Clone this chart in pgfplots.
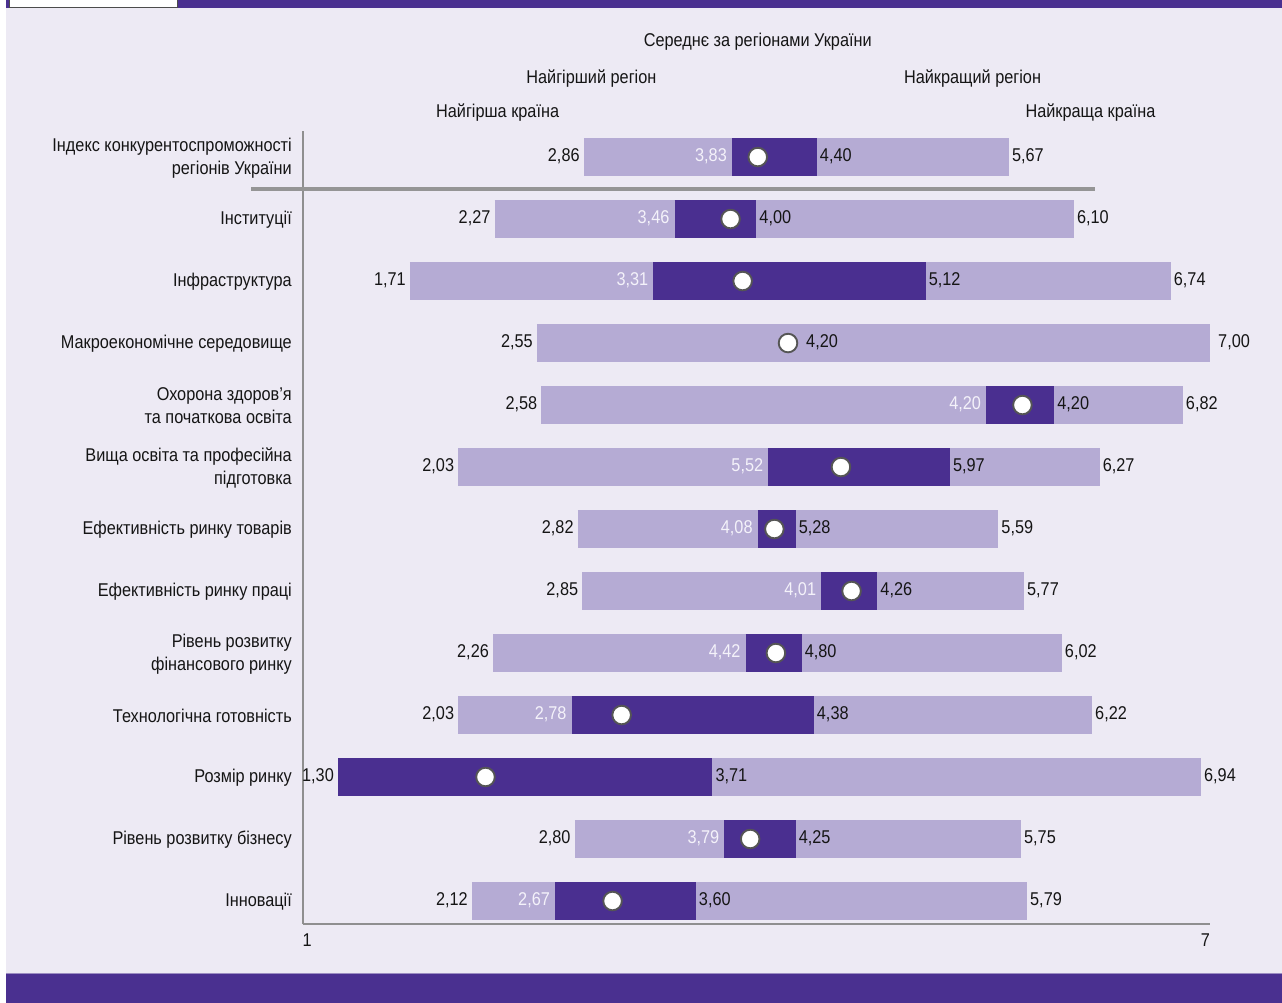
\documentclass[border=0pt]{standalone}
\usepackage{fontspec}
\setmainfont{Liberation Sans}[FakeStretch=0.88]
\usepackage{pgfplots}
\pgfplotsset{compat=1.18}
\definecolor{bg}{HTML}{EDEAF4}
\definecolor{lightbar}{HTML}{B5ABD4}
\definecolor{darkbar}{HTML}{4A2F90}
\definecolor{band}{HTML}{4A3090}
\definecolor{axgray}{HTML}{8F8F8F}
\definecolor{sepgray}{HTML}{959595}
\definecolor{circgray}{HTML}{555555}
\definecolor{txt}{HTML}{151515}
\definecolor{wtxt}{HTML}{F4F2FA}
\newcommand\lf{\fontsize{18.5}{23}\selectfont}
\pgfplotsset{
  lab/.style={draw=none, mark=none, point meta=explicit symbolic, nodes near coords,
    every node near coord/.append style={inner sep=0pt, text height=0.72em, text depth=0pt, yshift=-1pt, font=\lf, #1}},
}
\begin{document}
\begin{tikzpicture}
\path[use as bounding box] (0pt,0pt) rectangle (1282pt,-1003pt);
\fill[white] (0pt,0pt) rectangle (1282pt,-1003pt);
\fill[bg] (6pt,0pt) rectangle (1282pt,-1003pt);
\fill[band] (6pt,0pt) rectangle (1282pt,-8pt);
\filldraw[fill=white,draw=black!70,line width=0.8pt] (9pt,1pt) rectangle (177pt,-7pt);
\fill[band] (6pt,-973pt) rectangle (1282pt,-1003pt);
\draw[band!55!white, line width=1pt] (6pt,-973.5pt) -- (1282pt,-973.5pt);
\begin{axis}[
  at={(302.5pt,-924pt)}, anchor=south west,
  scale only axis, width=907.5pt, height=793pt,
  xmin=1, xmax=7, ymin=-12.371, ymax=0.42,
  clip=false,
  axis lines*=left,
  axis line style={draw=axgray, line width=2pt, -},
  major tick length=0pt,
  /pgf/number format/assume math mode=true,
  xtick={1}, extra x ticks={7},
  xticklabel style={anchor=north west, inner sep=0pt, yshift=-10pt, font=\lf, text=txt},
  extra x tick style={xticklabel style={anchor=north east}},
  ytick={-12,-11,-10,-9,-8,-7,-6,-5,-4,-3,-2,-1,0},
  yticklabels={Інновації, Рівень розвитку бізнесу, Розмір ринку, Технологічна готовність,
    {Рівень розвитку\\фінансового ринку}, Ефективність ринку праці, Ефективність ринку товарів,
    {Вища освіта та професійна\\підготовка}, {Охорона здоров’я\\та початкова освіта},
    Макроекономічне середовище, Інфраструктура, Інституції,
    {Індекс конкурентоспроможності\\регіонів України}},
  yticklabel style={align=right, inner sep=0pt, xshift=-10.5pt, yshift=-1pt, font=\lf, text=txt},
]
% light bars: best/worst country
\addplot[draw=lightbar, line width=38pt, mark=none, unbounded coords=jump] table {
x y
2.86 0
5.67 0
nan nan
2.27 -1
6.10 -1
nan nan
1.71 -2
6.74 -2
nan nan
2.55 -3
7.00 -3
nan nan
2.58 -4
6.82 -4
nan nan
2.03 -5
6.27 -5
nan nan
2.82 -6
5.60 -6
nan nan
2.85 -7
5.77 -7
nan nan
2.26 -8
6.02 -8
nan nan
2.03 -9
6.22 -9
nan nan
1.235 -10
6.94 -10
nan nan
2.80 -11
5.75 -11
nan nan
2.12 -12
5.79 -12
};
% dark bars: worst/best region
\addplot[draw=darkbar, line width=38pt, mark=none, unbounded coords=jump] table {
x y
3.84 0
4.40 0
nan nan
3.46 -1
4.00 -1
nan nan
3.32 -2
5.12 -2
nan nan
5.52 -4
5.97 -4
nan nan
4.08 -5
5.28 -5
nan nan
4.01 -6
4.26 -6
nan nan
4.43 -7
4.80 -7
nan nan
3.93 -8
4.30 -8
nan nan
2.78 -9
4.38 -9
nan nan
1.235 -10
3.71 -10
nan nan
3.79 -11
4.26 -11
nan nan
2.67 -12
3.60 -12
};
% averages
\addplot[only marks, mark=*, mark size=9.3pt, mark options={fill=white, draw=circgray, line width=1.9pt}] table {
x y
4.01 0
3.83 -1
3.91 -2
4.21 -3
5.76 -4
4.56 -5
4.12 -6
4.63 -7
4.13 -8
3.11 -9
2.21 -10
3.96 -11
3.05 -12
};
% worst country labels
\addplot[lab={anchor=east, xshift=-4pt, text=txt}] table[meta=l] {
x y l
2.86 0 2,86
2.27 -1 2,27
1.71 -2 1,71
2.55 -3 2,55
2.58 -4 2,58
2.03 -5 2,03
2.82 -6 2,82
2.85 -7 2,85
2.26 -8 2,26
2.03 -9 2,03
1.235 -10 1,30
2.80 -11 2,80
2.12 -12 2,12
};
% worst region labels (white)
\addplot[lab={anchor=east, xshift=-5pt, text=wtxt}] table[meta=l] {
x y l
3.84 0 3,83
3.46 -1 3,46
3.32 -2 3,31
5.52 -4 4,20
4.08 -5 5,52
4.01 -6 4,08
4.43 -7 4,01
3.93 -8 4,42
2.78 -9 2,78
3.79 -11 3,79
2.67 -12 2,67
};
% best region labels
\addplot[lab={anchor=west, xshift=3pt, text=txt}] table[meta=l] {
x y l
4.40 0 4,40
4.00 -1 4,00
5.12 -2 5,12
5.97 -4 4,20
5.28 -5 5,97
4.26 -6 5,28
4.80 -7 4,26
4.30 -8 4,80
4.38 -9 4,38
3.71 -10 3,71
4.26 -11 4,25
3.60 -12 3,60
};
\addplot[lab={anchor=west, xshift=18pt, text=txt}] table[meta=l] {
x y l
4.21 -3 4,20
};
% best country labels
\addplot[lab={anchor=west, xshift=3pt, text=txt}] table[meta=l] {
x y l
5.67 0 5,67
6.10 -1 6,10
6.74 -2 6,74
6.82 -4 6,82
6.27 -5 6,27
5.60 -6 5,59
5.77 -7 5,77
6.02 -8 6,02
6.22 -9 6,22
6.94 -10 6,94
5.75 -11 5,75
5.79 -12 5,79
};
\addplot[lab={anchor=west, xshift=8pt, text=txt}] table[meta=l] {
x y l
7.00 -3 7,00
};
% separator under the overall index
\draw[sepgray, line width=4pt] (axis cs:0.66,-0.508) -- (axis cs:6.24,-0.508);
% column headers
\node[font=\lf, text=txt, inner sep=0pt, text height=0.72em, text depth=0pt] at (axis cs:4.01,1.835) {Середнє за регіонами України};
\node[font=\lf, text=txt, inner sep=0pt, text height=0.72em, text depth=0pt] at (axis cs:2.91,1.25) {Найгірший регіон};
\node[font=\lf, text=txt, inner sep=0pt, text height=0.72em, text depth=0pt] at (axis cs:5.43,1.25) {Найкращий регіон};
\node[font=\lf, text=txt, inner sep=0pt, text height=0.72em, text depth=0pt] at (axis cs:2.29,0.70) {Найгірша країна};
\node[font=\lf, text=txt, inner sep=0pt, text height=0.72em, text depth=0pt] at (axis cs:6.21,0.70) {Найкраща країна};
\end{axis}
\end{tikzpicture}
\end{document}
